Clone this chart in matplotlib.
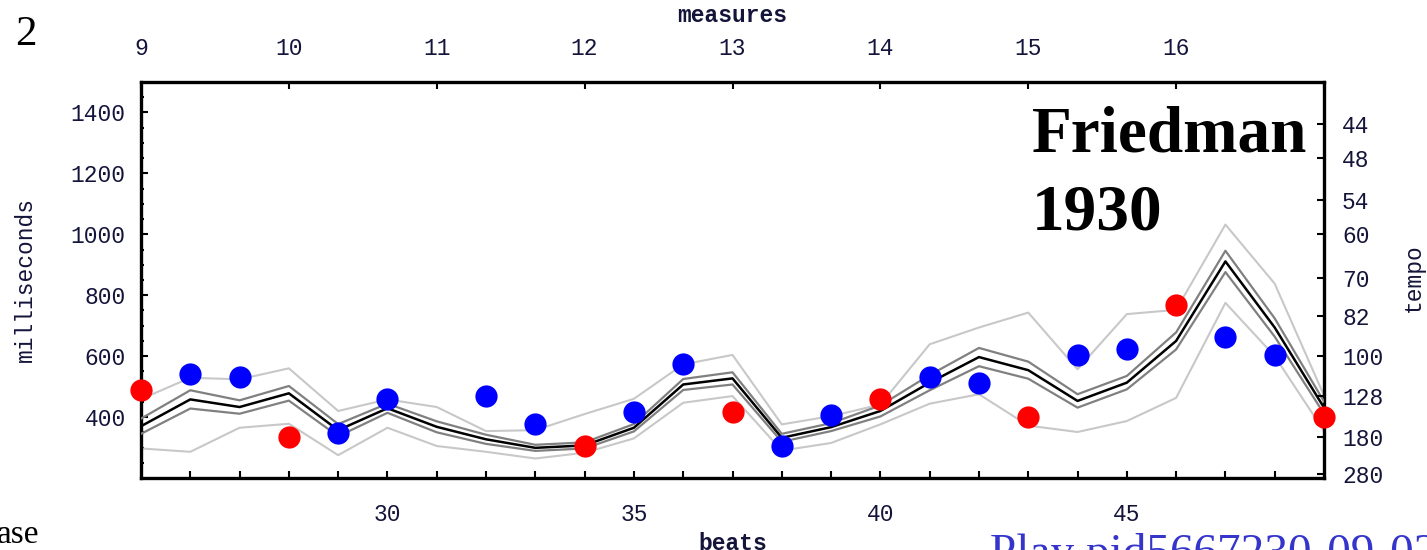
import numpy as np
import matplotlib
matplotlib.use('Agg')
import matplotlib.pyplot as plt

# beats shown on the x axis
beats = list(range(25, 50))

# mean tempo curve (ms per beat) and its bands
mean_ms = [370, 458, 433, 478, 357, 429, 368, 327, 299, 307, 365, 507, 527,
           332, 367, 420, 513, 597, 554, 453, 513, 650, 911, 694, 431]
inner_half = [25, 30, 22, 24, 20, 15, 18, 15, 10, 10, 12, 18, 20,
              13, 13, 18, 25, 30, 28, 22, 22, 28, 35, 30, 20]
outer_upper = [459, 529, 524, 560, 420, 458, 433, 354, 357, 410, 460, 573, 604,
               376, 403, 441, 639, 694, 743, 557, 738, 752, 1032, 838, 471]
outer_lower = [297, 286, 365, 378, 275, 365, 305, 286, 264, 283, 330, 447, 469,
               290, 315, 376, 444, 475, 372, 351, 387, 463, 775, 600, 354]

# individual performance points
red_beats = [25, 28, 34, 37, 40, 43, 46, 49]
red_ms = [490, 335, 305, 418, 460, 399, 767, 399]
blue_beats = [26, 27, 29, 30, 32, 33, 35, 36, 38, 39, 41, 42, 44, 45, 47, 48]
blue_ms = [540, 531, 348, 458, 469, 378, 417, 573, 306, 408, 531, 511, 603, 623, 663, 603]

measures = [9, 10, 11, 12, 13, 14, 15, 16, 17]
measure_beats = [25, 28, 31, 34, 37, 40, 43, 46, 49]
ms_ticks = [400, 600, 800, 1000, 1200, 1400]
tempo_ticks = [44, 48, 54, 60, 70, 82, 100, 128, 180, 280]

mono = 'Liberation Mono'
serif = 'Liberation Serif'
lbl_color = '#14143a'
lbl_size = 16.5
W, H = 1427, 550

fig = plt.figure(figsize=(W / 100, H / 100), dpi=100)
ax = fig.add_axes([141 / W, 1 - 478 / H, (1324 - 141) / W, (478 - 82) / H])

mean_ms = np.array(mean_ms)
inner_half = np.array(inner_half)

ax.plot(beats, outer_upper, color='#c8c8c8', lw=1.5, zorder=2)
ax.plot(beats, outer_lower, color='#c8c8c8', lw=1.5, zorder=2)
ax.plot(beats, mean_ms + inner_half, color='#808080', lw=1.6, zorder=3)
ax.plot(beats, mean_ms - inner_half, color='#808080', lw=1.6, zorder=3)
ax.plot(beats, mean_ms, color='black', lw=1.8, zorder=4)

ax.plot(red_beats, red_ms, 'o', color='#ff0000', ms=16, mec='none', zorder=6, clip_on=False)
ax.plot(blue_beats, blue_ms, 'o', color='#0000ff', ms=16, mec='none', zorder=6, clip_on=False)

ax.set_xlim(25, 49)
ax.set_ylim(200, 1500)

for s in ax.spines.values():
    s.set_linewidth(2.4)

ax.set_xticks(beats[1:-1])
ax.set_xticklabels([str(b) if b % 5 == 0 else '' for b in beats[1:-1]])
ax.set_yticks(ms_ticks)
ax.set_yticks([v for v in range(250, 1500, 50) if v not in ms_ticks], minor=True)
ax.tick_params(axis='x', direction='in', length=5, width=1.5, pad=18,
               labelsize=lbl_size, labelcolor=lbl_color)
ax.tick_params(axis='y', which='major', direction='in', length=5, width=1.5, pad=11,
               labelsize=lbl_size, labelcolor=lbl_color)
ax.tick_params(axis='y', which='minor', direction='in', length=2.5, width=1.5)
for t in ax.get_xticklabels() + ax.get_yticklabels():
    t.set_fontfamily(mono)

# measures on top
axt = ax.twiny()
axt.set_xlim(25, 49)
axt.set_xticks(measure_beats)
axt.set_xticklabels([str(m) if m < 17 else '' for m in measures])
axt.tick_params(axis='x', direction='in', length=5, width=1.5, pad=16,
                labelsize=lbl_size, labelcolor=lbl_color)
for t in axt.get_xticklabels():
    t.set_fontfamily(mono)
for s in axt.spines.values():
    s.set_visible(False)

# tempo on the right
axr = ax.twinx()
axr.set_ylim(200, 1500)
axr.set_yticks([60000 / t for t in tempo_ticks])
axr.set_yticklabels([str(t) for t in tempo_ticks])
axr.tick_params(axis='y', direction='in', length=5, width=1.5, pad=13,
                labelsize=lbl_size, labelcolor=lbl_color)
for t in axr.get_yticklabels():
    t.set_fontfamily(mono)
for s in axr.spines.values():
    s.set_visible(False)

fig.text(25 / W, 1 - 280 / H, 'milliseconds', rotation=90, ha='center', va='center',
         fontsize=lbl_size, family=mono, color=lbl_color)
fig.text(1413 / W, 1 - 278 / H, 'tempo', rotation=90, ha='center', va='center',
         fontsize=lbl_size, family=mono, color=lbl_color)
fig.text(732 / W, 1 - 16 / H, 'measures', ha='center', va='center',
         fontsize=lbl_size, family=mono, color=lbl_color, fontweight='bold')
fig.text(733 / W, 1 - 532 / H, 'beats', ha='center', va='top',
         fontsize=lbl_size, family=mono, color=lbl_color, fontweight='bold')

fig.text(1032 / W, 1 - 230 / H, 'Friedman\n1930', ha='left', va='baseline',
         fontsize=47, family=serif, fontweight='bold', linespacing=1.4)

fig.text(15 / W, 1 - 45 / H, '2', ha='left', va='baseline', fontsize=31, family=serif)
fig.text(-3 / W, 1 - 543 / H, 'ase', ha='left', va='baseline', fontsize=24, family=serif)
fig.text(990 / W, 1 - 533 / H, 'Play pid5667230-09-02', ha='left', va='top',
         fontsize=34, family=serif, color='#3535cc')

plt.savefig('out.png', dpi=100)
